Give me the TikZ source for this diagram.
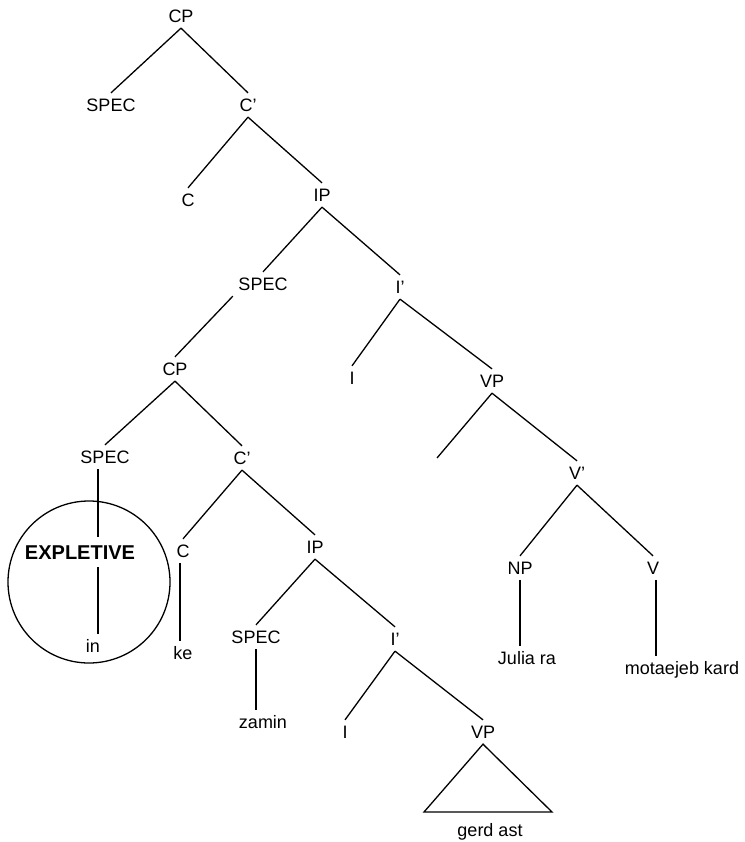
\documentclass[tikz,border=0pt]{standalone}
\usepackage{fontspec}
\setmainfont{Liberation Sans}
\begin{document}
\begin{tikzpicture}[x=1pt,y=-1pt,line width=1.3pt]
        \tikzstyle{lbl}=[inner sep=5pt,text height=13pt,text depth=0pt,font=\fontsize{18pt}{21pt}\selectfont]
        \tikzstyle{bold}=[lbl,inner sep=7pt,text height=15pt,font=\fontsize{20pt}{23pt}\selectfont\bfseries]
        \tikzstyle{every node}=[lbl]
        \useasboundingbox (0,0) rectangle (744,842);
        % upper CP
        \node (cpA) at (181,16) {CP};
        \node (specA) at (111,105) {SPEC};
        \node (cbarA) at (248,105) {C’};
        \node (cA) at (188,200) {C};
        \node (ipA) at (322,195) {IP};
        \node (specB) at (263,284) {SPEC};
        \node (ibarA) at (400,287) {I’};
        \node (iA) at (352,378) {I};
        \node (vpA) at (492,381) {VP};
        \coordinate (vpNone) at (437,458);
        \node (vbar) at (577,473) {V’};
        \node (np) at (520,568) {NP};
        \node (v) at (653,568) {V};
        \node (julia) at (527,658) {Julia ra};
        \node (mot) at (682,668) {motaejeb kard};
        % embedded CP
        \node (cpB) at (175,369) {CP};
        \node (specC) at (105,457) {SPEC};
        \node (cbarB) at (242,458) {C’};
        \node[circle,draw,minimum size=162pt,inner sep=0pt] (ring) at (89,582) {};
        \node[bold] (expl) at (80,552) {EXPLETIVE};
        \node (in) at (93,646) {in};
        \node (cB) at (183,551) {C};
        \node (ke) at (183,653) {ke};
        \node (ipB) at (315,547) {IP};
        \node (specD) at (256,637) {SPEC};
        \node (zamin) at (263,722) {zamin};
        \node (ibarB) at (395,639) {I’};
        \node (iB) at (345,732) {I};
        \node (vpB) at (483,732) {VP};
        \node (gerd) at (490,830) {gerd ast};
        \coordinate (triL) at (424,812);
        \coordinate (triR) at (552,812);
        % branches
        \draw (cpA.south) -- (specA.north);
        \draw (cpA.south) -- (cbarA.north);
        \draw (cbarA.south) -- (cA.north);
        \draw (cbarA.south) -- (ipA.north);
        \draw (ipA.south) -- (specB.north);
        \draw (ipA.south) -- (ibarA.north);
        \draw (ibarA.south) -- (iA.north);
        \draw (ibarA.south) -- (vpA.north);
        \draw (vpA.south) -- (vpNone);
        \draw (vpA.south) -- (vbar.north);
        \draw (vbar.south) -- (np.north);
        \draw (vbar.south) -- (v.north);
        \draw (np.south) -- (np.south |- julia.north);
        \draw ([xshift=3pt]v.south) -- ([xshift=3pt]v.south |- mot.north);
        \draw (specB.south west) -- (cpB.north);
        \draw (cpB.south) -- (specC.north);
        \draw (cpB.south) -- (cbarB.north);
        \draw ([xshift=-7pt]specC.south) -- ([xshift=-7pt]specC.south |- expl.north);
        \draw ([xshift=-7pt]specC.south |- expl.south) -- ([xshift=-7pt]specC.south |- in.north);
        \draw (cbarB.south) -- (cB.north);
        \draw (cbarB.south) -- (ipB.north);
        \draw ([xshift=-3pt]cB.south) -- ([xshift=-3pt]cB.south |- ke.north);
        \draw (ipB.south) -- (specD.north);
        \draw (ipB.south) -- (ibarB.north);
        \draw (specD.south) -- (specD.south |- zamin.north);
        \draw (ibarB.south) -- (iB.north);
        \draw (ibarB.south) -- (vpB.north);
        \draw (vpB.south) -- (triL) -- (triR) -- cycle;
\end{tikzpicture}
\end{document}
